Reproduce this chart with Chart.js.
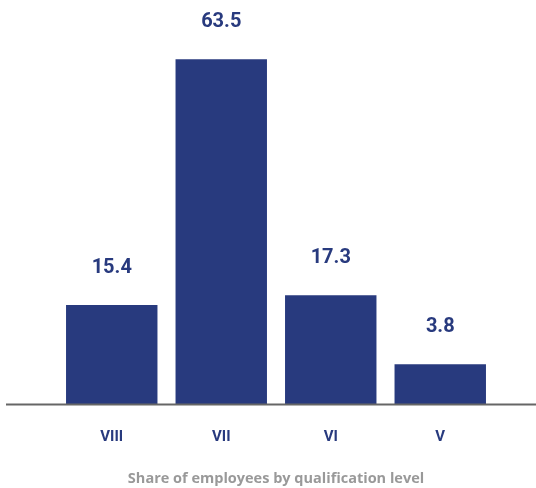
<!DOCTYPE html>
<html>
<head>
<meta charset="utf-8">
<script src="https://cdn.jsdelivr.net/npm/chart.js@4/dist/chart.umd.min.js"></script>
<style>
  html, body { margin: 0; padding: 0; background: #ffffff; }
  #wrap { width: 536px; height: 488px; }
</style>
</head>
<body>
<div id="wrap"><canvas id="qualChart"></canvas></div>
<script>
const categories = ["VIII", "VII", "VI", "V"];
const shares = [15.4, 63.5, 17.3, 3.8];
const chartTitle = "Share of employees by qualification level";

// the reference's value axis does not start at zero
const yMin = -4.1;
const yMax = 70;

const navy = "#283a7e";

// draws the value above each bar
const valueLabels = {
  id: "valueLabels",
  afterDatasetsDraw(chart) {
    const ctx = chart.ctx;
    const meta = chart.getDatasetMeta(0);
    ctx.save();
    ctx.fillStyle = navy;
    ctx.font = "bold 20px Roboto";
    ctx.textAlign = "center";
    ctx.textBaseline = "middle";
    meta.data.forEach((bar, i) => {
      ctx.fillText(shares[i].toFixed(1), bar.x, bar.y - 37);
    });
    ctx.restore();
  },
};

// baseline runs across the whole width
const baseLine = {
  id: "baseLine",
  afterDatasetsDraw(chart) {
    const ctx = chart.ctx;
    const y = chart.scales.y.getPixelForValue(yMin);
    ctx.save();
    ctx.strokeStyle = "#666666";
    ctx.lineWidth = 2;
    ctx.beginPath();
    ctx.moveTo(6, y);
    ctx.lineTo(chart.width, y);
    ctx.stroke();
    ctx.restore();
  },
};

new Chart(document.getElementById("qualChart").getContext("2d"), {
  type: "bar",
  data: {
    labels: categories,
    datasets: [
      {
        data: shares,
        base: yMin,
        backgroundColor: navy,
        categoryPercentage: 1,
        barPercentage: 0.835,
      },
    ],
  },
  options: {
    responsive: true,
    maintainAspectRatio: false,
    animation: false,
    layout: {
      padding: { left: 57, right: 41, top: 26, bottom: 0 },
    },
    scales: {
      x: {
        grid: { display: false, drawTicks: false },
        border: { display: false },
        ticks: {
          color: navy,
          padding: 24,
          font: { family: "Roboto", weight: "bold", size: 15 },
        },
      },
      y: {
        display: false,
        min: yMin,
        max: yMax,
      },
    },
    plugins: {
      legend: { display: false },
      tooltip: { enabled: false },
      title: {
        display: true,
        position: "bottom",
        text: chartTitle,
        color: "#999999",
        font: { family: "Open Sans", weight: "bold", size: 14.5 },
        padding: { top: 0, bottom: 0 },
      },
    },
  },
  plugins: [valueLabels, baseLine],
});
</script>
</body>
</html>
